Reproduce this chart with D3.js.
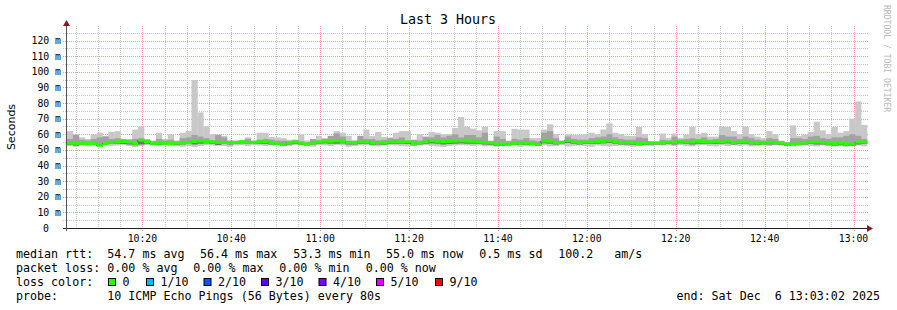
<!DOCTYPE html>
<html>
<meta charset='utf-8'>
<style>
  body{margin:0;background:#fff;}
  svg{display:block;}
  text{font-family:'DejaVu Sans Mono',monospace;fill:#000;white-space:pre;}
</style>
<body>
<svg id='chart' width='897' height='310'></svg>
<script src='https://cdn.jsdelivr.net/npm/d3@7/dist/d3.min.js'></script>
<script>
// one step every 80 s, 135 steps from 10:03:02 to 13:03:02
const startTime = new Date(2025, 11, 6, 10, 3, 2)
const endTime = new Date(2025, 11, 6, 13, 3, 2)
const stepSec = 80

// median rtt (ms)
const median = [
  54.3,54.2,54.2,54.0,54.1,53.0,54.2,54.8,55.2,55.3,55.0,54.2,56.2,55.3,54.0,54.3,54.2,54.0,54.3,54.5,54.6,55.3,55.7,55.3,55.2,54.8,54.8,54.7,54.8,55.3,54.8,54.8,55.3,55.2,
  54.5,54.0,53.5,54.5,55.0,54.2,53.8,54.5,55.0,55.6,55.5,55.8,55.5,54.8,54.5,55.0,55.2,54.3,54.8,54.3,55.0,55.2,55.0,55.2,54.0,54.6,55.0,55.8,55.5,55.2,55.4,55.6,55.8,55.6,
  55.5,55.0,54.8,54.4,53.8,53.7,53.8,54.2,54.5,54.3,54.0,53.6,55.6,55.5,54.5,54.8,56.0,55.0,54.6,55.0,55.0,55.4,55.5,56.0,55.2,54.5,54.8,54.4,54.0,54.3,54.6,54.5,54.5,
  55.0,54.8,55.5,55.0,55.0,55.5,55.3,55.0,55.2,55.0,55.6,54.6,55.0,55.2,54.6,54.3,54.5,54.8,54.6,54.3,53.6,53.8,54.0,54.5,55.0,55.0,54.8,54.2,54.0,54.3,54.0,53.6,55.0,55.2
]
// slowest ping of each step (ms)
const pingMax = [
  62,60,58,57,60,61,59,61.5,62,57,57,63,65,57,56,61,57,60,56,61,62,94.7,74,65,60,60,59,55,56,55,58,56,61,61,
  58.3,58,57.5,56.5,56,60,56,55,59,57.5,57.5,62,61,59,55,57.5,63,59,61.5,58.3,58,61,62,62,56,60,57,61.5,61,60,60,64,71,65,
  63.6,62.5,64.7,56,62,62,56,63.5,63,63,57.5,57.5,63,66.4,60,56,60,59.5,59.5,60,61,60,63,67,61,60,59,59,64.7,60,55,55,60.5,
  57.7,60.4,57.7,59.8,64.7,60,61,58.5,58.5,65,64.7,62,60,65,60,58.5,57.5,62,60,56,55,65.7,59,60,61.5,68,62.5,60,64.7,61,62,70,81,66
]
// second slowest ping (ms)
const pingHi = [
  57.0,59.5,56.5,56.0,57.0,58.0,58.5,57.0,57.5,57.0,56.5,57.0,57.5,56.5,55.5,57.0,56.0,56.5,55.5,57.5,58.0,59.5,58.5,57.5,56.0,59.5,58.0,56.0,54.8,55.5,57.0,55.5,56.5,57.0,
  56.5,56.0,55.8,55.5,56.5,55.5,54.8,57.0,56.0,57.0,59.0,60.5,58.5,55.5,56.0,59.0,57.0,57.0,56.0,56.5,57.5,57.0,58.0,55.5,56.5,56.0,58.5,58.0,59.5,58.0,59.0,60.0,58.0,59.5,
  59.5,58.0,61.0,55.5,58.5,57.0,55.5,57.0,56.5,57.5,56.0,55.5,61.0,62.0,57.5,55.5,58.5,57.0,56.5,56.5,57.5,58.0,58.5,60.0,58.0,57.0,56.5,56.5,58.0,57.5,55.0,54.8,56.5,
  55.8,58.5,56.5,57.0,57.5,57.0,58.0,56.5,57.0,59.5,58.5,58.5,57.0,58.5,57.5,56.5,56.0,57.5,57.0,55.5,54.8,57.5,57.5,57.0,58.5,59.0,57.5,57.0,58.0,58.0,59.0,60.0,59.0,57.0
]
// second fastest ping (ms)
const pingLo = [
  53.2,52.8,53.5,53.5,53.2,52.5,53.5,53.8,54.0,53.8,53.5,53.0,53.5,54.0,53.5,53.2,53.5,53.2,53.0,53.5,53.8,53.5,54.0,54.2,54.0,53.0,53.8,53.5,53.8,54.2,53.8,54.0,54.0,53.8,
  53.5,53.2,52.8,53.5,53.8,53.2,53.0,53.5,53.8,54.2,54.0,54.0,54.2,53.5,53.5,53.8,54.0,53.2,53.5,53.2,53.8,54.0,53.8,53.8,53.0,53.5,53.8,54.2,54.0,53.5,53.8,54.0,54.2,54.0,
  54.0,53.8,53.5,53.2,52.8,52.8,53.0,53.2,53.5,53.2,53.0,52.8,54.2,54.0,53.5,53.8,54.5,53.8,53.5,53.8,53.8,54.0,54.2,54.5,54.0,53.5,53.5,53.2,53.0,53.2,53.5,53.5,53.5,
  53.8,53.5,54.2,53.8,53.5,54.0,54.0,53.8,53.8,53.8,54.2,53.5,53.8,54.0,53.5,53.2,53.5,53.5,53.5,53.2,52.8,53.0,53.2,53.5,53.8,53.5,53.5,53.0,52.8,53.0,52.8,52.5,53.5,54.0
]
// fastest ping (ms)
const pingMin = [
  52.5,52.0,52.8,52.5,52.8,52.0,53.0,52.5,52.8,53.2,52.5,51.8,52.5,53.0,52.8,52.2,53.0,52.5,52.8,52.0,52.5,51.8,52.5,53.0,52.8,53.2,52.5,52.0,52.8,53.0,52.5,53.0,52.8,52.5,
  52.8,53.0,52.2,52.5,53.0,52.8,52.5,52.0,53.0,52.8,52.5,53.2,52.8,52.0,52.5,52.8,53.0,52.5,52.2,52.8,53.0,52.8,52.5,52.2,52.5,52.8,53.0,52.5,52.2,51.8,52.5,52.8,53.0,52.8,
  52.5,52.8,52.2,52.5,52.0,52.5,52.2,52.8,52.0,52.5,53.0,52.5,52.8,52.2,52.5,53.0,52.2,52.5,52.8,52.5,52.0,52.8,52.5,52.2,52.5,52.8,52.5,52.0,52.5,52.8,52.5,53.0,52.8,
  52.8,52.5,53.0,52.5,52.2,52.8,53.0,52.5,52.2,52.8,52.5,53.0,52.5,52.8,52.2,52.5,52.8,52.5,53.0,52.8,52.5,52.2,52.5,52.8,52.5,52.2,52.8,52.5,52.2,52.5,52.0,52.5,52.8,52.2
]

const yTicks = [0,10,20,30,40,50,60,70,80,90,100,110,120]
const lossLabels = ['0','1/10','2/10','3/10','4/10','5/10','9/10']
const lossColors = ['#26ff00','#00b8ff','#0059ff','#5e00ff','#7e00ff','#dd00ff','#ff0000']

const svg = d3.select('#chart')
const x = d3.scaleTime().domain([startTime, endTime]).range([67, 867])
const y = d3.scaleLinear().domain([0, 128]).range([228, 28])
const stepTime = (i) => new Date(startTime.getTime() + i * stepSec * 1000)
const px = (v) => Math.round(v) + 0.5

// grid: 5 min / 5 ms minor, 20 min / 10 ms major
const grid = svg.append('g')
const allX = d3.timeMinute.every(5).range(startTime, endTime)
const minorX = allX.filter(d => d.getMinutes() % 20 !== 0)
const majorX = allX.filter(d => d.getMinutes() % 20 === 0)
const minorY = d3.range(5, 130, 10)

grid.append('g').selectAll('line').data(minorX).join('line')
  .attr('x1', d => px(x(d))).attr('x2', d => px(x(d)))
  .attr('y1', 26).attr('y2', 230)
  .attr('stroke', '#c4c4c4').attr('stroke-dasharray', '1,1')
grid.append('g').selectAll('line').data(minorY).join('line')
  .attr('x1', 63).attr('x2', 868)
  .attr('y1', d => px(y(d))).attr('y2', d => px(y(d)))
  .attr('stroke', '#c4c4c4').attr('stroke-dasharray', '1,1')
grid.append('g').selectAll('line').data(yTicks.slice(1)).join('line')
  .attr('x1', 63).attr('x2', 868)
  .attr('y1', d => px(y(d))).attr('y2', d => px(y(d)))
  .attr('stroke', '#f09a9a').attr('stroke-dasharray', '1,1')
grid.append('g').selectAll('line').data(majorX).join('line')
  .attr('x1', d => px(x(d))).attr('x2', d => px(x(d)))
  .attr('y1', 26).attr('y2', 231)
  .attr('stroke', '#f09a9a').attr('stroke-dasharray', '1,1')

// smoke
const steps = d3.range(median.length)
const band = (lo, hi, color) => {
  svg.append('g').selectAll('rect').data(steps).join('rect')
    .attr('x', i => x(stepTime(i)))
    .attr('width', i => x(stepTime(i + 1)) - x(stepTime(i)) + 0.3)
    .attr('y', i => y(hi[i]))
    .attr('height', i => y(lo[i]) - y(hi[i]))
    .attr('fill', color)
}
band(pingMin, pingMax, '#c8c8c8')
band(pingLo, pingHi, '#a2a2a2')
band(pingLo, median, '#717171')

// median
svg.append('path')
  .datum(steps.concat([median.length]))
  .attr('d', d3.line().curve(d3.curveStepAfter)
    .x(i => x(stepTime(i))).y(i => y(median[Math.min(i, median.length - 1)])))
  .attr('fill', 'none').attr('stroke', '#1a1a1a').attr('stroke-width', 1)
svg.append('g').selectAll('rect').data(steps).join('rect')
  .attr('x', i => x(stepTime(i)))
  .attr('width', i => x(stepTime(i + 1)) - x(stepTime(i)) + 0.3)
  .attr('y', i => y(median[i]) - 1.5)
  .attr('height', 3)
  .attr('fill', lossColors[0])

// axes
svg.append('line').attr('x1', 63).attr('x2', 868).attr('y1', 228.5).attr('y2', 228.5).attr('stroke', '#222')
svg.append('line').attr('x1', 66.5).attr('x2', 66.5).attr('y1', 231).attr('y2', 24).attr('stroke', '#555')
svg.append('path').attr('d', 'M867,225 L873,228.5 L867,232 Z').attr('fill', '#8b1a1a')
svg.append('path').attr('d', 'M63,26 L66.5,20 L70,26 Z').attr('fill', '#8b1a1a')

svg.append('g').selectAll('text').data(yTicks).join('text')
  .attr('x', d => d === 0 ? 49 : 61)
  .attr('y', d => y(d) + 3.5)
  .attr('text-anchor', 'end')
  .attr('font-size', 9.8)
  .text(d => d === 0 ? '0' : d + ' m')

svg.append('g').selectAll('text').data(majorX).join('text')
  .attr('x', d => x(d))
  .attr('y', 242)
  .attr('text-anchor', 'middle')
  .attr('font-size', 9.8)
  .text(d => d3.timeFormat('%H:%M')(d))

svg.append('text').attr('x', 448).attr('y', 24).attr('text-anchor', 'middle')
  .attr('font-size', 13.3).text('Last 3 Hours')
svg.append('text').attr('transform', 'translate(15,127) rotate(-90)').attr('text-anchor', 'middle')
  .style('font-family', "'DejaVu Sans',sans-serif").attr('font-size', 11).text('Seconds')
svg.append('text').attr('transform', 'translate(884,5) rotate(90)')
  .attr('font-size', 8.1).style('fill', '#b8b8b8').text('RRDTOOL / TOBI OETIKER')

// legend
const legend = svg.append('g').attr('font-size', 11.66)
const row = (yy, parts) => parts.forEach(p => legend.append('text').attr('x', p[0]).attr('y', yy).text(p[1]))
row(258, [[16, 'median rtt:'], [107.3, '54.7 ms avg'], [200, '56.4 ms max'], [293.3, '53.3 ms min'],
  [386, '55.0 ms now'], [479.3, '0.5 ms sd'], [558.3, '100.2'], [614.3, 'am/s']])
row(272, [[16, 'packet loss:'], [107.3, '0.00 % avg'], [193.3, '0.00 % max'], [279.3, '0.00 % min'], [365.7, '0.00 % now']])
row(286, [[16, 'loss color:']])
const boxX = [108, 146, 203.5, 261, 318.5, 376, 435]
lossLabels.forEach((l, i) => {
  legend.append('rect').attr('x', boxX[i] + 0.5).attr('y', 278.5).attr('width', 7).attr('height', 7)
    .attr('fill', lossColors[i]).attr('stroke', '#000')
  legend.append('text').attr('x', boxX[i] + 14.5).attr('y', 286).text(l)
})
row(300, [[16, 'probe:'], [107.3, '10 ICMP Echo Pings (56 Bytes) every 80s']])
legend.append('text').attr('x', 880).attr('y', 300).attr('text-anchor', 'end').text('end: Sat Dec  6 13:03:02 2025')
</script>
</body>
</html>
